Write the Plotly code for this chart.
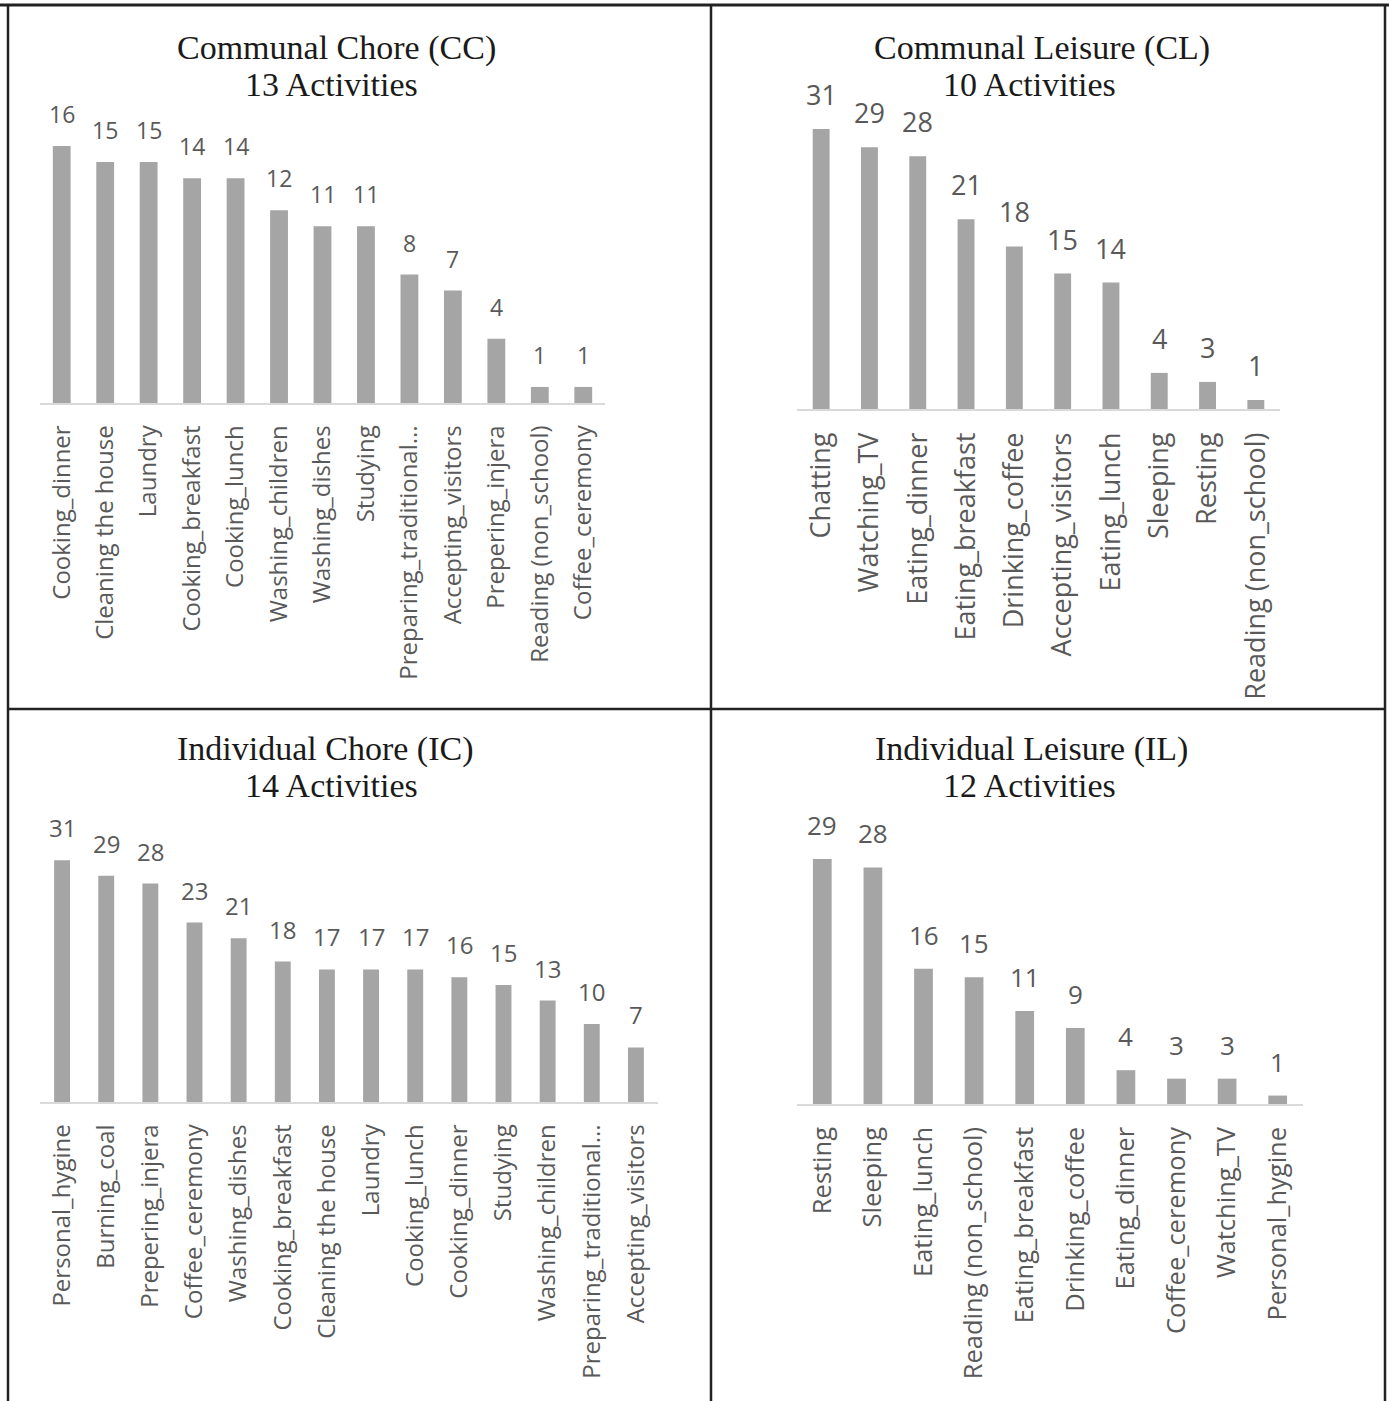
import plotly.graph_objects as go

W, H = 1389, 1401

# ---------------- data ----------------
cc_title = ["Communal Chore (CC)", "13 Activities"]
cc_labels = ["Cooking_dinner", "Cleaning the house", "Laundry", "Cooking_breakfast", "Cooking_lunch",
             "Washing_children", "Washing_dishes", "Studying", "Preparing_traditional...",
             "Accepting_visitors", "Prepering_injera", "Reading (non_school)", "Coffee_ceremony"]
cc_values = [16, 15, 15, 14, 14, 12, 11, 11, 8, 7, 4, 1, 1]

cl_title = ["Communal Leisure (CL)", "10 Activities"]
cl_labels = ["Chatting", "Watching_TV", "Eating_dinner", "Eating_breakfast", "Drinking_coffee",
             "Accepting_visitors", "Eating_lunch", "Sleeping", "Resting", "Reading (non_school)"]
cl_values = [31, 29, 28, 21, 18, 15, 14, 4, 3, 1]

ic_title = ["Individual Chore (IC)", "14 Activities"]
ic_labels = ["Personal_hygine", "Burning_coal", "Prepering_injera", "Coffee_ceremony", "Washing_dishes",
             "Cooking_breakfast", "Cleaning the house", "Laundry", "Cooking_lunch", "Cooking_dinner",
             "Studying", "Washing_children", "Preparing_traditional...", "Accepting_visitors"]
ic_values = [31, 29, 28, 23, 21, 18, 17, 17, 17, 16, 15, 13, 10, 7]

il_title = ["Individual Leisure (IL)", "12 Activities"]
il_labels = ["Resting", "Sleeping", "Eating_lunch", "Reading (non_school)", "Eating_breakfast",
             "Drinking_coffee", "Eating_dinner", "Coffee_ceremony", "Watching_TV", "Personal_hygine"]
il_values = [29, 28, 16, 15, 11, 9, 4, 3, 3, 1]

# ---------------- layout helpers ----------------
def px(x):
    return x / W

def py(y):
    return 1 - y / H

BAR = "#a5a5a5"
TXT = "#595959"
AX = "#d9d9d9"

panels = [
    # labels, values, title, x-left, x-right, baseline, px/unit, top,
    # title1 (x,y), title2 (x,y), bargap, tick font, value font
    dict(labs=cc_labels, vals=cc_values, title=cc_title, xl=40, xr=605, base=403, ppu=16.06, top=110,
         t1=(336, 48), t2=(331, 84), gap=0.59, tf=24, vf=23),
    dict(labs=cl_labels, vals=cl_values, title=cl_title, xl=797, xr=1280, base=409, ppu=9.03, top=110,
         t1=(1042, 48), t2=(1029, 84), gap=0.65, tf=27, vf=27),
    dict(labs=ic_labels, vals=ic_values, title=ic_title, xl=40, xr=658, base=1102, ppu=7.8, top=810,
         t1=(325, 749), t2=(331, 785), gap=0.64, tf=24, vf=24),
    dict(labs=il_labels, vals=il_values, title=il_title, xl=797, xr=1303, base=1104, ppu=8.45, top=810,
         t1=(1031, 749), t2=(1029, 785), gap=0.63, tf=25.5, vf=26),
]

fig = go.Figure()
annotations = []
for i, p in enumerate(panels):
    n = i + 1
    xa = "x" if n == 1 else f"x{n}"
    ya = "y" if n == 1 else f"y{n}"
    fig.add_trace(go.Bar(x=p["labs"], y=p["vals"], width=1 - p["gap"],
                         marker=dict(color=BAR, line=dict(width=0)),
                         xaxis=xa, yaxis=ya, showlegend=False, hoverinfo="skip"))
    xkey = "xaxis" if n == 1 else f"xaxis{n}"
    ykey = "yaxis" if n == 1 else f"yaxis{n}"
    fig.layout[xkey] = dict(domain=[px(p["xl"]), px(p["xr"])], anchor=ya, type="category",
                            tickangle=-90, tickfont=dict(family="Open Sans", size=p["tf"], color=TXT),
                            showline=True, linecolor=AX, linewidth=1.5, showgrid=False,
                            ticks="", ticklabelstandoff=11, fixedrange=True)
    fig.layout[ykey] = dict(domain=[py(p["base"]), py(p["top"])], anchor=xa,
                            range=[0, (p["base"] - p["top"]) / p["ppu"]], visible=False, fixedrange=True)
    for lab, v in zip(p["labs"], p["vals"]):
        annotations.append(dict(x=lab, y=v, xref=xa, yref=ya, text=str(v), showarrow=False,
                                yanchor="bottom", yshift=14,
                                font=dict(family="Open Sans", size=p["vf"], color=TXT)))
    for line, (tx, ty) in zip(p["title"], (p["t1"], p["t2"])):
        annotations.append(dict(x=px(tx), y=py(ty), xref="paper", yref="paper", text=line,
                                showarrow=False, xanchor="center", yanchor="middle",
                                font=dict(family="Liberation Serif", size=34, color="#1a1a1a")))

shapes = [
    dict(type="line", xref="paper", yref="paper", x0=0, x1=1, y0=py(5), y1=py(5),
         line=dict(color="#222222", width=3)),
    dict(type="line", xref="paper", yref="paper", x0=px(8), x1=px(8), y0=py(4), y1=0,
         line=dict(color="#222222", width=2.5)),
    dict(type="line", xref="paper", yref="paper", x0=px(711), x1=px(711), y0=py(4), y1=0,
         line=dict(color="#222222", width=2.5)),
    dict(type="line", xref="paper", yref="paper", x0=px(1385), x1=px(1385), y0=py(4), y1=0,
         line=dict(color="#222222", width=2.5)),
    dict(type="line", xref="paper", yref="paper", x0=px(8), x1=px(1385), y0=py(709), y1=py(709),
         line=dict(color="#222222", width=2.5)),
]

fig.update_layout(width=W, height=H, margin=dict(l=0, r=0, t=0, b=0),
                  paper_bgcolor="white", plot_bgcolor="white",
                  annotations=annotations, shapes=shapes)

fig.write_html("out.html")
